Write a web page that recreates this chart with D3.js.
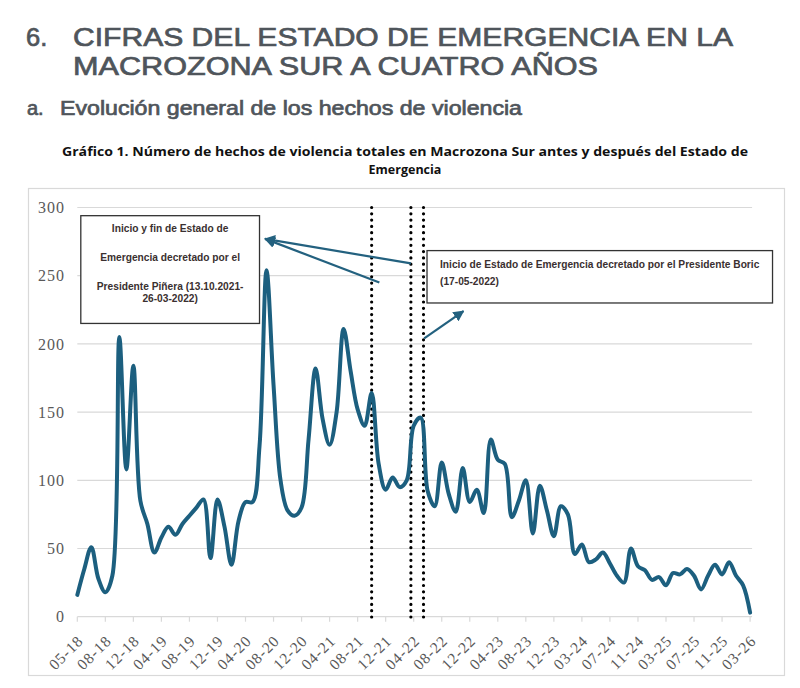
<!DOCTYPE html>
<html>
<head>
<meta charset="utf-8">
<script src="https://cdn.jsdelivr.net/npm/d3@7"></script>
<style>
  body { margin: 0; background: #fff; }
  svg { display: block; }
</style>
</head>
<body>
<svg id="chart"></svg>
<script>
// monthly counts of violent events, Macrozona Sur
var values = [16, 35, 51, 28, 18, 30, 205, 108, 184, 85,
              68, 47, 58, 66, 60, 68, 74, 80, 86, 43,
              86, 66, 38, 70, 84, 84, 125, 254, 170, 100,
              78, 74, 80, 130, 182, 145, 126, 150, 211, 180,
              152, 140, 164, 112, 93, 102, 95, 100, 140, 146,
              92, 81, 113, 90, 77, 109, 84, 93, 76, 130,
              115, 112, 73, 85, 100, 61, 96, 78, 59, 81,
              75, 46, 53, 40, 42, 47, 39, 30, 25, 50,
              37, 34, 27, 29, 23, 32, 31, 35, 30, 20,
              30, 38, 31, 40, 30, 23, 3];

// one label every 4 points
var tickLabels = ["05-18", "08-18", "12-18", "04-19", "08-19", "12-19", "04-20",
                  "08-20", "12-20", "04-21", "08-21", "12-21", "04-22", "08-22",
                  "12-22", "04-23", "08-23", "12-23", "03-24", "07-24", "11-24",
                  "03-25", "07-25", "11-25", "03-26"];
var tickStep = 4;
var yTicks = [0, 50, 100, 150, 200, 250, 300];

// event dates as positions on the month index
var eventLines = [42, 47.6, 49.4];

var W = 800, H = 688;
var svg = d3.select("#chart").attr("width", W).attr("height", H);
svg.append("rect").attr("width", W).attr("height", H).attr("fill", "#fff");

var titleColor = "#4f555b";

// headings
function heading(txt, px, py, size, len) {
  var t = svg.append("text").attr("x", px).attr("y", py)
      .attr("font-family", "Liberation Sans").attr("font-size", size)
      .attr("fill", titleColor).attr("stroke", titleColor).attr("stroke-width", 0.7)
      .text(txt);
  if (len) t.attr("textLength", len).attr("lengthAdjust", "spacingAndGlyphs");
  return t;
}
heading("6.", 26, 46, 25.5);
heading("CIFRAS DEL ESTADO DE EMERGENCIA EN LA", 73, 46, 25.5, 660);
heading("MACROZONA SUR A CUATRO AÑOS", 73, 74.5, 25.5, 525);
heading("a.", 27, 115, 20);
heading("Evolución general de los hechos de violencia", 60, 115, 20, 462);

var h3 = svg.append("text").attr("text-anchor", "middle")
    .attr("font-family", "Open Sans").attr("font-weight", 700)
    .attr("font-size", 12.5).attr("fill", "#111");
h3.append("tspan").attr("x", 405).attr("y", 156)
    .attr("textLength", 686).attr("lengthAdjust", "spacingAndGlyphs")
    .text("Gráfico 1. Número de hechos de violencia totales en Macrozona Sur antes y después del Estado de");
h3.append("tspan").attr("x", 405).attr("y", 174).text("Emergencia");

// chart frame
svg.append("rect").attr("x", 28.5).attr("y", 188.5).attr("width", 756).attr("height", 487)
    .attr("fill", "none").attr("stroke", "#d9d9d9").attr("stroke-width", 1.2);

var x = d3.scaleLinear().domain([0, values.length - 1]).range([77.3, 750.1]);
var y = d3.scaleLinear().domain([0, 300]).range([616.7, 207.5]);

// gridlines
svg.append("g").selectAll("line").data(yTicks).enter().append("line")
    .attr("x1", x(0)).attr("x2", x(values.length - 1) + 2)
    .attr("y1", d => y(d)).attr("y2", d => y(d))
    .attr("stroke", "#d9d9d9").attr("stroke-width", 1.2);

svg.append("g").selectAll("text").data(yTicks).enter().append("text")
    .attr("x", 65).attr("y", d => y(d)).attr("dy", "0.35em")
    .attr("text-anchor", "end")
    .attr("font-family", "Liberation Serif").attr("font-size", 16)
    .attr("letter-spacing", 1).attr("fill", "#595959")
    .text(d => d);

// x ticks and labels
var xt = svg.append("g").selectAll("g").data(tickLabels).enter().append("g")
    .attr("transform", (d, i) => "translate(" + x(i * tickStep) + "," + y(0) + ")");
xt.append("line").attr("y1", 0).attr("y2", 5).attr("stroke", "#d9d9d9").attr("stroke-width", 1.2);
xt.append("text")
    .attr("transform", "translate(7,25) rotate(-45)")
    .attr("text-anchor", "end")
    .attr("font-family", "Liberation Serif").attr("font-size", 15.5)
    .attr("letter-spacing", 1).attr("fill", "#595959")
    .text(d => d);

// event markers
svg.append("g").selectAll("line").data(eventLines).enter().append("line")
    .attr("x1", d => x(d)).attr("x2", d => x(d))
    .attr("y1", y(300)).attr("y2", y(0) + 2)
    .attr("stroke", "#000").attr("stroke-width", 3.2)
    .attr("stroke-linecap", "round").attr("stroke-dasharray", "0 6.3");

// the series
var line = d3.line()
    .x((d, i) => x(i))
    .y(d => y(d))
    .curve(d3.curveCatmullRom.alpha(0.5));

svg.append("path").datum(values)
    .attr("d", line)
    .attr("fill", "none").attr("stroke", "#1c5f7f")
    .attr("stroke-width", 4).attr("stroke-linejoin", "round").attr("stroke-linecap", "round");

// annotations (in data units)
var teal = "#23617f";
svg.append("defs").append("marker")
    .attr("id", "head").attr("viewBox", "0 0 10 10")
    .attr("refX", 9).attr("refY", 5)
    .attr("markerWidth", 5).attr("markerHeight", 5)
    .attr("orient", "auto-start-reverse")
    .append("path").attr("d", "M0,0L10,5L0,10z").attr("fill", teal);

var arrows = [
  {from: [47.6, 259], to: [26.8, 277]},
  {from: [43.1, 245], to: [26.8, 277]},
  {from: [49.5, 204], to: [55.1, 224]}
];
svg.append("g").selectAll("line").data(arrows).enter().append("line")
    .attr("x1", d => x(d.from[0])).attr("y1", d => y(d.from[1]))
    .attr("x2", d => x(d.to[0])).attr("y2", d => y(d.to[1]))
    .attr("stroke", teal).attr("stroke-width", 2.2)
    .attr("marker-end", "url(#head)");

var boxes = [
  {x0: 0.5, x1: 26, y0: 294, y1: 215, anchor: "middle",
   lines: [["Inicio y fin de Estado de", 232], ["Emergencia decretado por el", 261],
           ["Presidente Piñera (13.10.2021-", 290], ["26-03-2022)", 302]]},
  {x0: 49.9, x1: 99.2, y0: 268.4, y1: 230, anchor: "start",
   lines: [["Inicio de Estado de Emergencia decretado por el Presidente Boric", 268],
           ["(17-05-2022)", 285]]}
];
boxes.forEach(function(b) {
  svg.append("rect")
    .attr("x", x(b.x0)).attr("y", y(b.y0))
    .attr("width", x(b.x1) - x(b.x0)).attr("height", y(b.y1) - y(b.y0))
    .attr("fill", "#fff").attr("stroke", "#333").attr("stroke-width", 1.3);
  var tx = b.anchor == "middle" ? (x(b.x0) + x(b.x1)) / 2 : x(b.x0) + 13;
  var t = svg.append("text")
      .attr("text-anchor", b.anchor)
      .attr("font-family", "Liberation Sans").attr("font-weight", 700)
      .attr("font-size", 10.2).attr("fill", "#3a3030");
  b.lines.forEach(function(l) {
    t.append("tspan").attr("x", tx).attr("y", l[1]).text(l[0]);
  });
});
</script>
</body>
</html>
